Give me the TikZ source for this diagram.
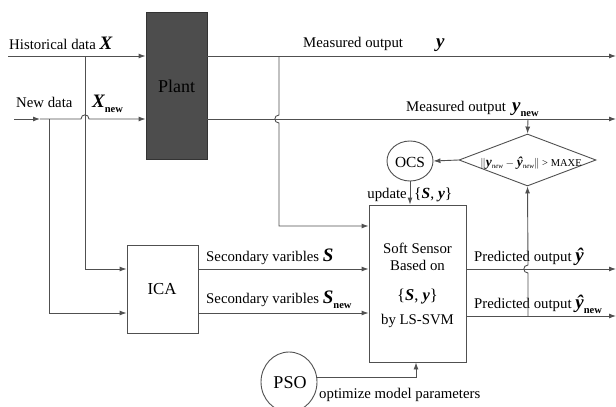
\documentclass[tikz,border=0pt]{standalone}
\usepackage{fontspec}
\setmainfont{Liberation Serif}
\usetikzlibrary{arrows.meta,shapes.geometric}
\definecolor{lc}{HTML}{505050}
\definecolor{plantc}{HTML}{4D4D4D}
\newcommand{\bsym}[1]{{\fontsize{19}{19}\selectfont\bfseries\itshape #1}}
\newcommand{\snew}{\raisebox{-5pt}{\fontsize{10.5}{10.5}\selectfont\bfseries new}}
\newcommand{\dsym}[1]{{\fontsize{13.5}{13.5}\selectfont\bfseries\itshape #1}}
\newcommand{\dnew}{\raisebox{-2pt}{\fontsize{7}{7}\selectfont\itshape new}}
\begin{document}
\begin{tikzpicture}[x=1pt,y=-1pt,
  line/.style={draw=lc, line width=0.9pt},
  arr/.style={line, -{Latex[length=7pt,width=5pt]}},
  box/.style={draw=lc, line width=0.9pt, inner sep=0pt},
  txt/.style={inner sep=0pt, font=\fontsize{14.8}{14.8}\selectfont, anchor=base west},
  ctxt/.style={txt, anchor=base}]
\useasboundingbox (0,0) rectangle (616,407);

% blocks
\node[box, fill=plantc, draw=black!80, minimum width=61pt, minimum height=147pt] (plant) at (176.5,85.5) {};
\node[box, minimum width=71pt, minimum height=88pt] (ica) at (162.5,289) {};
\node[box, minimum width=97pt, minimum height=157pt] (ss) at (417.5,283.5) {};
\node[box, ellipse, minimum width=46pt, minimum height=40pt] (ocs) at (410,161) {};
\node[box, ellipse, minimum width=56pt, minimum height=60pt] (pso) at (289,382) {};
\node[box, diamond, aspect=2.63, minimum width=137pt, minimum height=52pt] (dia) at (527.5,160) {};

% block texts
\node[ctxt, font=\fontsize{18}{18}\selectfont] (plantlbl) at (176.5,92) {Plant};
\node[ctxt, font=\fontsize{16.8}{16.8}\selectfont] (icalbl) at (162,294) {ICA};
\node[ctxt, font=\fontsize{15.4}{15.4}\selectfont] (ocslbl) at (410,167) {OCS};
\node[ctxt, font=\fontsize{18}{18}\selectfont] (psolbl) at (290,388) {PSO};
\node[ctxt] (ss1) at (417.5,253) {Soft Sensor};
\node[ctxt] (ss2) at (417.5,270) {Based on};
\node[ctxt, font=\fontsize{16.5}{16.5}\selectfont] (ss3) at (417.5,300) {\{\textbf{\textit{S}}, \textbf{\textit{y}}\}};
\node[ctxt] (ss4) at (417.5,324) {by LS-SVM};
\node[ctxt, font=\fontsize{10.5}{10.5}\selectfont] (dialbl) at (531,166) {$\|$\dsym{y}\dnew\ $-$ \dsym{ŷ}\dnew$\|$ > MAXE};

% text labels
\node[txt] (lhist) at (9,49) {Historical data \bsym{X}};
\node[txt] (lnew) at (16,107) {New data};
\node[txt] (lxnew) at (92,107) {\bsym{X}\snew};
\node[txt] (lmy) at (303,47) {Measured output};
\node[txt] (lmyy) at (436,47) {\bsym{y}};
\node[txt] (lmyn) at (406,111) {Measured output};
\node[txt] (lmynn) at (512,111) {\bsym{y}\snew};
\node[txt] (ls) at (206,261) {Secondary varibles \bsym{S}};
\node[txt] (lsn) at (206,303) {Secondary varibles \bsym{S}\snew};
\node[txt] (lp) at (474,261) {Predicted output \bsym{ŷ}};
\node[txt] (lpn) at (474,308) {Predicted output \bsym{ŷ}\snew};
\node[txt, anchor=base east] (lupd) at (407,198) {update};
\node[txt, font=\fontsize{15.5}{15.5}\selectfont] (lupds) at (414,198) {\{\textbf{\textit{S}}, \textbf{\textit{y}}\}};
\node[txt] (lopt) at (319,398) {optimize model parameters};

% coordinates
\coordinate (hs) at (8,56);
\coordinate (hb) at (85,56);
\coordinate (nd) at (14,119);
\coordinate (nda) at (40,119);
\coordinate (nb) at (49,119);
\coordinate (mb) at (279,56);
\coordinate (ye) at (616,56);
\coordinate (yne) at (616,119);
\coordinate (yhe) at (616,269);
\coordinate (yhne) at (616,316);
\coordinate (fb) at (528,316);
\coordinate (dt) at (528,119);

% connectors
\draw[arr] (hs) -- (hs -| plant.west);
\draw[arr] (hb) |- ([yshift=20pt]ica.west);
\draw[arr] (nd) -- (nda);
\draw[arr] (nda) -- (81,119) .. controls (81,113.5) and (89,113.5) .. (89,119) -- (nd -| plant.west);
\draw[arr] (nb) |- ([yshift=-24pt]ica.west);
\draw[arr] (plant.east |- hs) -- (ye);
\draw[arr] (plant.east |- nd) -- (yne);
\draw[arr] (mb) -- (279,115) .. controls (273.5,115) and (273.5,123) .. (279,123) |- ([yshift=57.5pt]ss.west);
\draw[arr] ([yshift=20pt]ica.east) coordinate (sl) -- (sl -| ss.west);
\draw[arr] ([yshift=-24pt]ica.east) coordinate (snl) -- (snl -| ss.west);
\draw[arr] ([yshift=14.5pt]ss.east) -- (yhe);
\draw[arr] ([yshift=-32.5pt]ss.east) -- (yhne);
\draw[arr] (fb) -- (528,273) .. controls (522.5,273) and (522.5,265) .. (528,265) -- (dia.south);
\draw[arr] (dt) -- (dia.north);
\draw[arr] (dia.west) -- (ocs.east);
\draw[arr] (ocs.south) -- (ocs.south |- ss.north);
\draw[arr] (pso.10) -| ([xshift=-1.5pt]ss.south);
\end{tikzpicture}
\end{document}
